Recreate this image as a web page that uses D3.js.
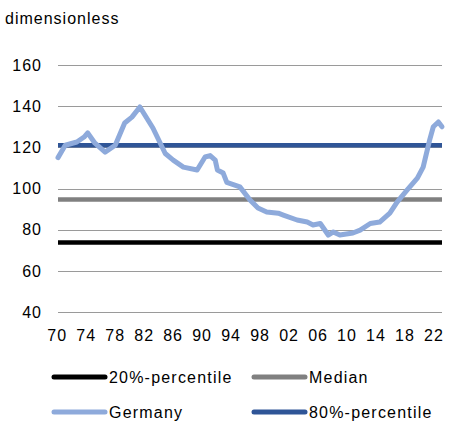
<!DOCTYPE html>
<html>
<head>
<meta charset="utf-8">
<script src="https://cdn.jsdelivr.net/npm/d3@7"></script>
<style>
  body { margin: 0; background: #fff; }
  svg text { font-family: "Liberation Sans", Arial, sans-serif; fill: #000; font-size: 16px; letter-spacing: 1px; }
</style>
</head>
<body>
<svg id="chart" width="449" height="424"></svg>
<script>
// Germany
var years = [1970.0, 1971.0, 1972.6, 1973.6, 1974.1, 1975.1, 1976.5, 1977.9, 1979.2, 1980.2,
  1981.3, 1983.1, 1984.8, 1985.9, 1987.3, 1989.2, 1990.3, 1991.0, 1991.7, 1992.0,
  1992.8, 1993.3, 1995.1, 1996.5, 1997.6, 1998.8, 2000.4, 2001.1, 2003.0, 2004.4,
  2005.2, 2006.2, 2007.3, 2008.0, 2008.9, 2010.7, 2011.7, 2013.1, 2014.4, 2015.8,
  2016.8, 2018.2, 2019.6, 2020.4, 2021.3, 2021.8, 2022.5, 2023.0];
var germany = [115, 121, 122.6, 125, 127, 122, 117.7, 121, 131.8, 134.7,
  139.6, 129.4, 117, 113.8, 110.4, 109, 115.3, 116, 113.8, 109,
  107.5, 103, 100.8, 94.4, 90.5, 88.6, 88, 87.1, 84.7, 83.7,
  82.3, 83, 77.4, 78.9, 77.4, 78.4, 79.8, 83, 83.7, 88,
  93.4, 99.3, 105, 110.4, 123.6, 130, 132.3, 130];

var levelNames = ['20%-percentile', 'Median', '80%-percentile'];
var levelValues = [73.8, 94.7, 121];

var yTicks = [40, 60, 80, 100, 120, 140, 160];
var xTicks = [1970, 1974, 1978, 1982, 1986, 1990, 1994, 1998, 2002, 2006, 2010, 2014, 2018, 2022];

var colors = {
  '20%-percentile': '#000000',
  'Median': '#808080',
  'Germany': '#8eaadb',
  '80%-percentile': '#2f5597'
};

var svg = d3.select('#chart');

var x = d3.scaleLinear().domain([1970, 2023]).range([58, 442]);
var y = d3.scaleLinear().domain([40, 160]).range([312, 65]);

svg.append('text')
  .attr('x', 5)
  .attr('y', 24)
  .text('dimensionless');

// gridlines
svg.append('g')
  .selectAll('line')
  .data(yTicks)
  .enter()
  .append('line')
  .attr('x1', 58)
  .attr('x2', 442)
  .attr('y1', function(d) { return Math.round(y(d)) + 0.5; })
  .attr('y2', function(d) { return Math.round(y(d)) + 0.5; })
  .attr('stroke', '#9a9a9a')
  .attr('stroke-width', 1);

// y labels
svg.append('g')
  .selectAll('text')
  .data(yTicks)
  .enter()
  .append('text')
  .attr('x', 42)
  .attr('y', function(d) { return y(d) + 5.7; })
  .attr('text-anchor', 'end')
  .text(function(d) { return d; });

// x labels
svg.append('g')
  .selectAll('text')
  .data(xTicks)
  .enter()
  .append('text')
  .attr('x', function(d) { return x(d) - 0.8; })
  .attr('y', 341)
  .attr('text-anchor', 'middle')
  .text(function(d) { return String(d % 100).padStart(2, '0'); });

// percentile levels
svg.append('g')
  .selectAll('line')
  .data(levelValues)
  .enter()
  .append('line')
  .attr('x1', 58)
  .attr('x2', 442)
  .attr('y1', function(d) { return y(d); })
  .attr('y2', function(d) { return y(d); })
  .attr('stroke', function(d, i) { return colors[levelNames[i]]; })
  .attr('stroke-width', 4.5);

var line = d3.line()
  .x(function(d) { return x(d[0]); })
  .y(function(d) { return y(d[1]); });

svg.append('path')
  .datum(d3.zip(years, germany))
  .attr('d', line)
  .attr('fill', 'none')
  .attr('stroke', colors['Germany'])
  .attr('stroke-width', 5)
  .attr('stroke-linejoin', 'round')
  .attr('stroke-linecap', 'round');

// legend
var legendItems = [
  { label: '20%-percentile', lx: 52, ly: 377 },
  { label: 'Median', lx: 252, ly: 377 },
  { label: 'Germany', lx: 52, ly: 412 },
  { label: '80%-percentile', lx: 252, ly: 412 }
];

var legend = svg.append('g').selectAll('g')
  .data(legendItems)
  .enter()
  .append('g')
  .attr('transform', function(d) { return 'translate(' + d.lx + ',' + d.ly + ')'; });

legend.append('line')
  .attr('x1', 2)
  .attr('x2', 53)
  .attr('y1', 0)
  .attr('y2', 0)
  .attr('stroke', function(d) { return colors[d.label]; })
  .attr('stroke-width', 5)
  .attr('stroke-linecap', 'round');

legend.append('text')
  .attr('x', 57)
  .attr('y', 6)
  .style('letter-spacing', '1.2px')
  .text(function(d) { return d.label; });
</script>
</body>
</html>
